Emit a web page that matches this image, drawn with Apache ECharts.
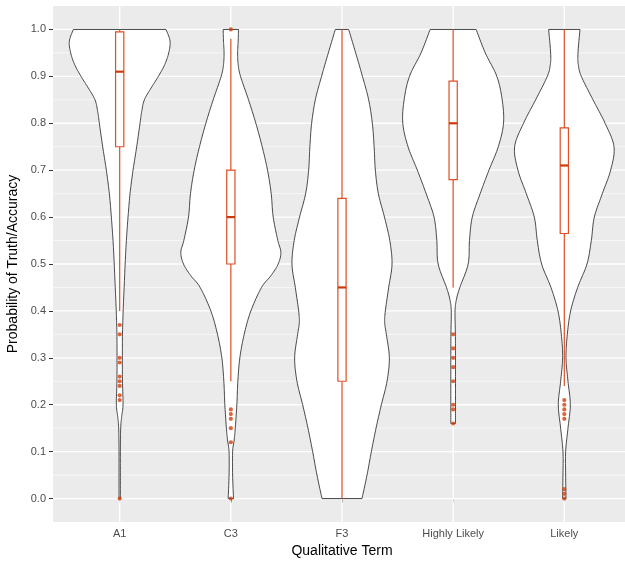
<!DOCTYPE html>
<html><head><meta charset="utf-8">
<script src="https://cdn.jsdelivr.net/npm/echarts@6/dist/echarts.min.js"></script>
<style>html,body{margin:0;padding:0;background:#fff}#c{width:625px;height:561px}</style>
</head><body><div id="c"></div>
<script>
const categories = ['A1', 'C3', 'F3', 'Highly Likely', 'Likely'];
const yTicks = [0, 0.1, 0.2, 0.3, 0.4, 0.5, 0.6, 0.7, 0.8, 0.9, 1.0];
const yMinor = [0.05, 0.15, 0.25, 0.35, 0.45, 0.55, 0.65, 0.75, 0.85, 0.95];
const xTicks = [1, 2, 3, 4, 5];

// violin outlines: [value, half width in category units]
const violinA1 = [[0,0.006],[0.05,0.006],[0.1,0.006],[0.15,0.009],[0.175,0.018],[0.2,0.030],[0.25,0.025],[0.3,0.024],[0.35,0.025],[0.4,0.031],[0.45,0.040],[0.5,0.049],[0.55,0.060],[0.6,0.075],[0.65,0.093],[0.7,0.120],[0.75,0.153],[0.8,0.183],[0.825,0.198],[0.85,0.222],[0.875,0.282],[0.9,0.348],[0.925,0.405],[0.95,0.441],[0.975,0.453],[1.0,0.417]];
const violinC3 = [[0,0.024],[0.05,0.016],[0.1,0.016],[0.125,0.030],[0.15,0.040],[0.2,0.054],[0.25,0.063],[0.3,0.081],[0.35,0.120],[0.4,0.180],[0.45,0.276],[0.475,0.360],[0.5,0.426],[0.525,0.450],[0.55,0.423],[0.6,0.381],[0.65,0.363],[0.7,0.330],[0.75,0.282],[0.8,0.225],[0.85,0.159],[0.9,0.087],[0.925,0.066],[0.95,0.061],[0.975,0.066],[1.0,0.069]];
const violinF3 = [[0,0.180],[0.05,0.225],[0.1,0.264],[0.15,0.306],[0.2,0.354],[0.25,0.405],[0.3,0.426],[0.35,0.399],[0.375,0.384],[0.4,0.390],[0.45,0.420],[0.5,0.450],[0.55,0.430],[0.6,0.382],[0.65,0.327],[0.7,0.300],[0.75,0.289],[0.8,0.273],[0.85,0.240],[0.9,0.184],[0.95,0.123],[1.0,0.060]];
const violinHL = [[0.16,0.021],[0.2,0.021],[0.25,0.021],[0.3,0.021],[0.35,0.020],[0.4,0.017],[0.425,0.030],[0.45,0.060],[0.5,0.135],[0.55,0.147],[0.6,0.172],[0.65,0.243],[0.7,0.322],[0.75,0.406],[0.8,0.453],[0.85,0.441],[0.9,0.393],[0.95,0.289],[1.0,0.207]];
const violinLikely = [[0,0.015],[0.05,0.012],[0.1,0.012],[0.15,0.033],[0.2,0.054],[0.25,0.033],[0.3,0.015],[0.35,0.027],[0.4,0.057],[0.45,0.120],[0.5,0.204],[0.55,0.243],[0.6,0.270],[0.65,0.342],[0.7,0.417],[0.75,0.447],[0.8,0.367],[0.85,0.258],[0.9,0.153],[0.925,0.126],[0.95,0.123],[1.0,0.141]];

// box stats: [lower whisker, Q1, median, Q3, upper whisker]
const boxA1 = [0.40, 0.75, 0.91, 0.995, 1.0];
const boxC3 = [0.25, 0.50, 0.60, 0.70, 0.98];
const boxF3 = [0.0, 0.25, 0.45, 0.64, 1.0];
const boxHL = [0.45, 0.68, 0.80, 0.89, 1.0];
const boxLikely = [0.24, 0.565, 0.71, 0.79, 1.0];

// outliers
const outA1 = [0.37, 0.35, 0.30, 0.29, 0.26, 0.25, 0.24, 0.22, 0.21, 0.0];
const outC3 = [1.0, 0.19, 0.18, 0.17, 0.15, 0.12, 0.0];
const outF3 = [];
const outHL = [0.35, 0.32, 0.30, 0.28, 0.25, 0.20, 0.19, 0.16];
const outLikely = [0.21, 0.20, 0.19, 0.18, 0.17, 0.02, 0.01, 0.0];

const violins = [violinA1, violinC3, violinF3, violinHL, violinLikely];
const boxes = [boxA1, boxC3, boxF3, boxHL, boxLikely];
const outliers = [outA1, outC3, outF3, outHL, outLikely];

const BOX_HALF = 0.037;
const BOX_COLOR = '#DE4F24';
const MED_COLOR = '#CC3A0C';

const chart = echarts.init(document.getElementById('c'), null, {renderer: 'canvas'});

// smooth a pixel polyline (Catmull-Rom) for drawing only
function smoothSide(pts) {
  const out = [];
  const n = pts.length;
  for (let k = 0; k < n - 1; k++) {
    const p0 = pts[Math.max(k - 1, 0)], p1 = pts[k], p2 = pts[k + 1], p3 = pts[Math.min(k + 2, n - 1)];
    const steps = 10;
    for (let s = 0; s < steps; s++) {
      const t = s / steps, t2 = t * t, t3 = t2 * t;
      const f = (a, b, c, d) => 0.5 * ((2 * b) + (-a + c) * t + (2 * a - 5 * b + 4 * c - d) * t2 + (-a + 3 * b - 3 * c + d) * t3);
      out.push([f(p0[0], p1[0], p2[0], p3[0]), f(p0[1], p1[1], p2[1], p3[1])]);
    }
  }
  out.push(pts[n - 1]);
  return out;
}

function renderGrid(params, api) {
  const children = [];
  const x0 = api.coord([0.4, 0])[0], x1 = api.coord([5.6, 0])[0];
  const yTop = api.coord([1, 1.05])[1], yBot = api.coord([1, -0.05])[1];
  yMinor.forEach(v => {
    const y = api.coord([1, v])[1];
    children.push({type: 'line', shape: {x1: x0, y1: y, x2: x1, y2: y}, style: {stroke: '#ffffff', lineWidth: 0.6}});
  });
  yTicks.forEach(v => {
    const y = api.coord([1, v])[1];
    children.push({type: 'line', shape: {x1: x0, y1: y, x2: x1, y2: y}, style: {stroke: '#ffffff', lineWidth: 1.3}});
  });
  xTicks.forEach(v => {
    const x = api.coord([v, 0])[0];
    children.push({type: 'line', shape: {x1: x, y1: yTop, x2: x, y2: yBot}, style: {stroke: '#ffffff', lineWidth: 1.3}});
  });
  return {type: 'group', children: children};
}

function renderViolin(params, api) {
  const i = api.value(0);
  const c = i + 1;
  const prof = violins[i];
  const right = smoothSide(prof.map(p => api.coord([c + p[1], p[0]])));
  const left = smoothSide(prof.slice().reverse().map(p => api.coord([c - p[1], p[0]])));
  return {
    type: 'polygon',
    shape: {points: right.concat(left)},
    style: {fill: '#ffffff', stroke: '#333333', lineWidth: 0.9}
  };
}

function renderBox(params, api) {
  const i = api.value(0);
  const c = i + 1;
  const b = boxes[i];
  const pLo = api.coord([c, b[0]]);
  const pQ1 = api.coord([c, b[1]]);
  const pMed = api.coord([c, b[2]]);
  const pQ3 = api.coord([c, b[3]]);
  const pHi = api.coord([c, b[4]]);
  const xl = api.coord([c - BOX_HALF, b[2]])[0];
  const xr = api.coord([c + BOX_HALF, b[2]])[0];
  const ls = {stroke: BOX_COLOR, lineWidth: 1.2};
  return {
    type: 'group',
    children: [
      {type: 'line', shape: {x1: pLo[0], y1: pLo[1], x2: pQ1[0], y2: pQ1[1]}, style: ls},
      {type: 'line', shape: {x1: pQ3[0], y1: pQ3[1], x2: pHi[0], y2: pHi[1]}, style: ls},
      {type: 'rect', shape: {x: xl, y: pQ3[1], width: xr - xl, height: pQ1[1] - pQ3[1]}, style: {fill: '#ffffff', stroke: BOX_COLOR, lineWidth: 1.2}},
      {type: 'line', shape: {x1: xl, y1: pMed[1], x2: xr, y2: pMed[1]}, style: {stroke: MED_COLOR, lineWidth: 2.2}}
    ]
  };
}

const outlierData = [];
outliers.forEach((arr, i) => arr.forEach(v => outlierData.push([i + 1, v])));

const option = {
  animation: false,
  textStyle: {fontFamily: 'Liberation Sans, Arial, sans-serif'},
  grid: {
    left: 53, top: 6, right: -6, bottom: 39,
    outerBoundsMode: 'none', containLabel: false,
    show: true, backgroundColor: '#EBEBEB', borderWidth: 0
  },
  xAxis: {
    type: 'value', min: 0.4, max: 5.6,
    name: 'Qualitative Term', nameLocation: 'middle', nameGap: 21,
    nameTextStyle: {color: '#000000', fontSize: 14},
    axisLine: {show: false},
    axisTick: {show: true, length: 4, customValues: xTicks, lineStyle: {color: '#333333'}},
    axisLabel: {customValues: xTicks, color: '#4D4D4D', fontSize: 11, margin: 6,
      formatter: v => categories[Math.round(v) - 1] || ''},
    splitLine: {show: false}
  },
  yAxis: {
    type: 'value', min: -0.05, max: 1.05,
    name: 'Probability of Truth/Accuracy', nameLocation: 'middle', nameGap: 29,
    nameTextStyle: {color: '#000000', fontSize: 14},
    axisLine: {show: false},
    axisTick: {show: true, length: 4, customValues: yTicks, lineStyle: {color: '#333333'}},
    axisLabel: {customValues: yTicks, color: '#4D4D4D', fontSize: 11, margin: 7,
      formatter: v => v.toFixed(1)},
    splitLine: {show: false}
  },
  series: [
    {
      type: 'custom', z: 1, silent: true, renderItem: renderGrid, clip: true,
      data: [[1, 0]], encode: {x: 0, y: 1}
    },
    {
      type: 'custom', z: 2, renderItem: renderViolin,
      data: categories.map((c, i) => [i]), encode: {x: 0}
    },
    {
      type: 'custom', z: 3, renderItem: renderBox,
      data: categories.map((c, i) => [i]), encode: {x: 0}
    },
    {
      type: 'scatter', z: 4, data: outlierData, symbol: 'circle', symbolSize: 4.2,
      itemStyle: {color: '#D2400E'}
    }
  ]
};
chart.setOption(option);
</script></body></html>
